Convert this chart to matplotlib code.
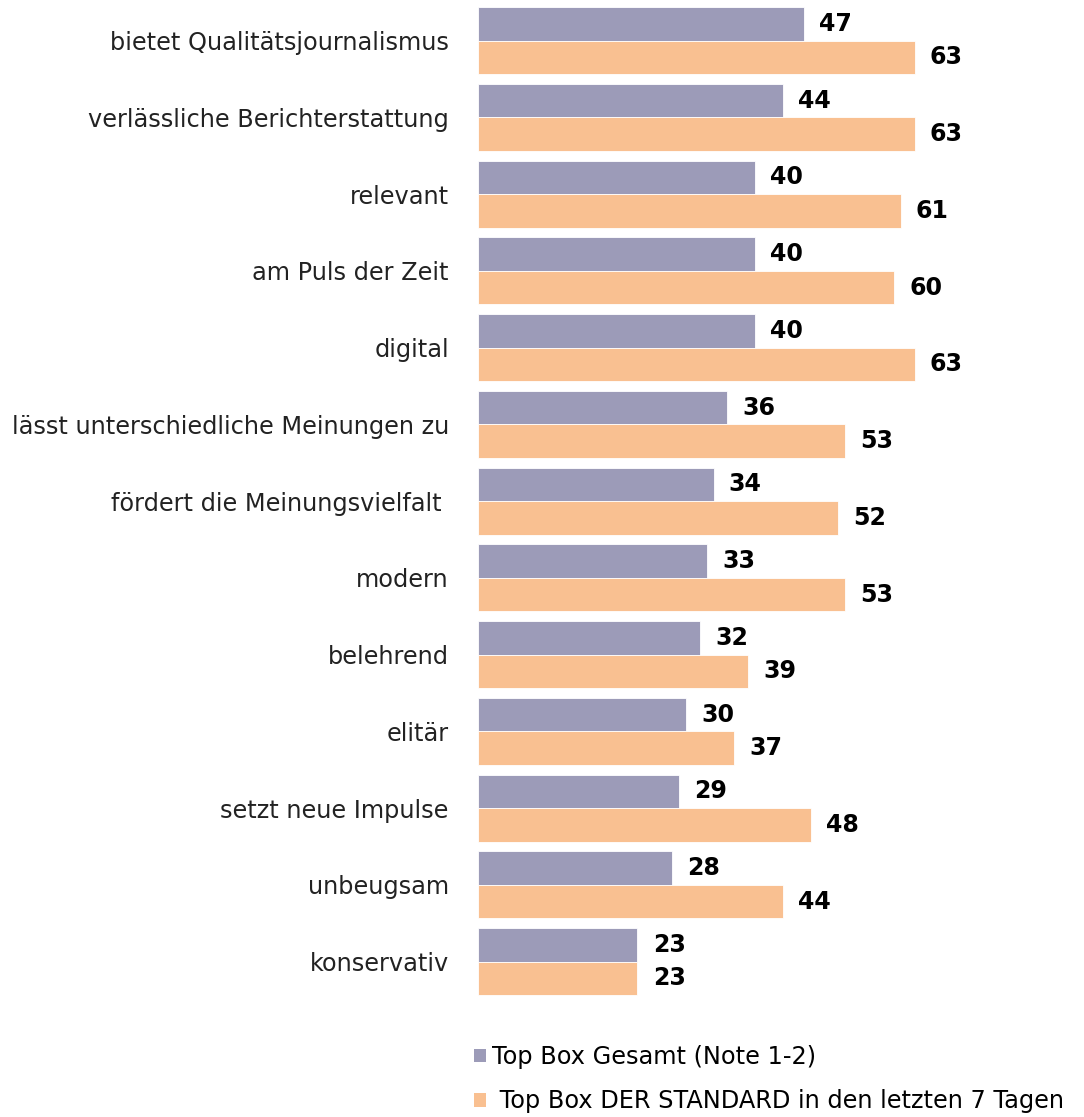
import matplotlib.pyplot as plt
from matplotlib.patches import Patch
import numpy as np

# Daten
categories = [
    "bietet Qualitätsjournalismus",
    "verlässliche Berichterstattung",
    "relevant",
    "am Puls der Zeit",
    "digital",
    "lässt unterschiedliche Meinungen zu",
    "fördert die Meinungsvielfalt ",
    "modern",
    "belehrend",
    "elitär",
    "setzt neue Impulse",
    "unbeugsam",
    "konservativ",
]
gesamt = [47, 44, 40, 40, 40, 36, 34, 33, 32, 30, 29, 28, 23]
standard = [63, 63, 61, 60, 63, 53, 52, 53, 39, 37, 48, 44, 23]
legend_labels = ["Top Box Gesamt (Note 1-2)", " Top Box DER STANDARD in den letzten 7 Tagen"]

col_gesamt = "#9c9bb8"
col_standard = "#f9c091"

plt.rcParams["font.family"] = ["DejaVu Sans"]

fig = plt.figure(figsize=(10.84, 11.17), dpi=100)
ax = fig.add_axes([478 / 1084, 117 / 1117, 1 - 478 / 1084, 1000 / 1117])

y = np.arange(len(categories))
h = 0.437
ax.barh(y - h / 2, gesamt, height=h, color=col_gesamt, edgecolor="white", linewidth=0.6)
ax.barh(y + h / 2, standard, height=h, color=col_standard, edgecolor="white", linewidth=0.6)

for i in range(len(categories)):
    ax.text(gesamt[i] + 2.2, y[i] - h / 2, str(gesamt[i]), va="center", ha="left",
            fontsize=17, fontweight="bold", color="black")
    ax.text(standard[i] + 2.2, y[i] + h / 2, str(standard[i]), va="center", ha="left",
            fontsize=17, fontweight="bold", color="black")

ax.set_xlim(0, 606 / 6.93)
ax.set_ylim(12.5, -0.528)
ax.set_yticks(y)
ax.set_yticklabels(categories, fontsize=17.3, color="#222222")
ax.tick_params(axis="y", length=0, pad=21)
ax.set_xticks([])
for s in ax.spines.values():
    s.set_visible(False)

handles = [Patch(facecolor=col_gesamt), Patch(facecolor=col_standard)]
fig.legend(handles, legend_labels, loc="upper left", bbox_to_anchor=(474 / 1084, 1 - 1045 / 1117),
           frameon=False, fontsize=17.3, handlelength=0.5, handleheight=0.5,
           handletextpad=0.25, labelspacing=0.85, borderaxespad=0, borderpad=0)

fig.savefig("out.png", dpi=100)
